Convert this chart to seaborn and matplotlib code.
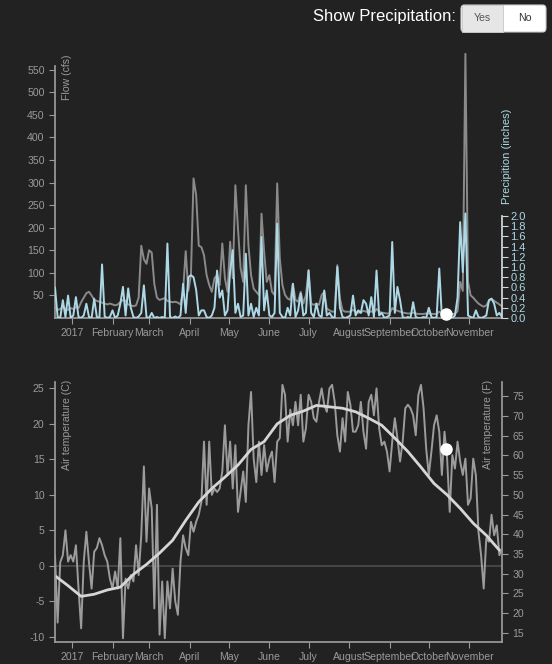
#Recreating the flow / precipitation / air temperature dashboard (2017) with seaborn.

#Importing libraries.
import pandas as pd
import matplotlib
matplotlib.use('Agg')
import matplotlib.pyplot as plt
import matplotlib.dates as mdates
from matplotlib.ticker import FuncFormatter
from matplotlib.patches import FancyBboxPatch, Rectangle
import seaborn as sns

#Daily series sampled every 2 days, starting 2016-12-19.
start_date = '2016-12-19'

flow_cfs = [
    22, 18, 20, 25, 20, 18, 22, 20, 24, 22,
    35, 45, 55, 58, 50, 40, 38, 36, 34, 32,
    30, 32, 30, 28, 30, 35, 40, 38, 30, 28,
    26, 28, 45, 160, 130, 120, 150, 145, 75, 45,
    40, 42, 44, 38, 36, 35, 36, 34, 30, 60,
    148, 60, 95, 309, 272, 160, 157, 139, 95, 73,
    58, 88, 95, 73, 165, 88, 58, 169, 88, 294,
    198, 110, 80, 294, 161, 95, 65, 58, 51, 231,
    147, 80, 95, 58, 51, 298, 132, 73, 51, 43,
    40, 76, 40, 36, 58, 32, 51, 106, 32, 29,
    32, 29, 51, 58, 21, 17, 14, 14, 117, 43,
    17, 14, 14, 14, 18, 14, 12, 12, 16, 14,
    12, 15, 12, 20, 14, 12, 11, 10, 10, 22,
    18, 16, 14, 12, 11, 10, 10, 12, 10, 9,
    9, 9, 10, 10, 9, 9, 9, 14, 10, 8,
    8, 8, 9, 9, 15, 80, 60, 585, 80, 50,
    45, 38, 32, 28, 25, 28, 38, 42, 38, 34,
    30, 26,
]

precip_in = [
    0.60, 0.02, 0.00, 0.35, 0.02, 0.44, 0.00, 0.05, 0.41, 0.02,
    0.00, 0.05, 0.28, 0.02, 0.00, 0.38, 0.02, 0.00, 1.05, 0.03,
    0.00, 0.02, 0.15, 0.00, 0.05, 0.28, 0.61, 0.05, 0.58, 0.20,
    0.02, 0.00, 0.03, 0.10, 0.64, 0.02, 0.00, 0.10, 0.00, 0.02,
    0.00, 0.02, 0.00, 1.46, 0.02, 0.00, 0.03, 0.00, 0.05, 0.67,
    0.10, 0.80, 0.84, 0.80, 0.55, 0.05, 0.15, 0.15, 0.02, 0.00,
    0.05, 0.20, 0.93, 0.40, 0.54, 0.05, 0.15, 0.93, 1.33, 0.10,
    0.28, 0.02, 0.05, 1.26, 0.05, 0.28, 0.02, 0.20, 0.05, 1.59,
    0.15, 0.54, 0.05, 0.02, 0.10, 1.85, 0.10, 0.02, 0.00, 0.20,
    0.05, 0.67, 0.02, 0.15, 0.48, 0.05, 0.10, 0.93, 0.10, 0.02,
    0.28, 0.05, 0.02, 0.54, 0.05, 0.10, 0.02, 0.00, 1.00, 0.20,
    0.02, 0.00, 0.02, 0.05, 0.44, 0.05, 0.15, 0.10, 0.35, 0.28,
    0.05, 0.41, 0.02, 0.93, 0.05, 0.10, 0.00, 0.02, 0.05, 1.49,
    0.10, 0.61, 0.35, 0.02, 0.00, 0.02, 0.00, 0.31, 0.02, 0.00,
    0.00, 0.02, 0.00, 0.20, 0.02, 0.00, 0.02, 0.97, 0.02, 0.00,
    0.00, 0.02, 0.00, 0.05, 0.40, 1.88, 0.90, 2.05, 0.05, 0.02,
    0.00, 0.15, 0.02, 0.00, 0.02, 0.05, 0.35, 0.38, 0.28, 0.05,
    0.10, 0.02,
]

temp_c = [
    1.5, -8.0, 0.5, 1.5, 5.0, 0.6, 1.5, 0.6, 2.9, -3.2,
    -8.8, 0.6, 4.8, 0.5, -3.2, 2.0, 2.5, 3.9, 2.9, 1.5,
    0.6, -1.8, -3.2, -0.8, -3.2, 3.9, -10.2, -1.8, -3.2, -1.3,
    -2.2, 2.9, -1.3, 4.3, 14.0, 3.4, 10.9, 8.1, -6.0, 8.6,
    -9.7, -2.2, -10.2, -2.2, -6.0, -0.4, -5.0, -6.9, 0.6, 4.3,
    2.5, 1.5, 6.2, 4.8, 6.2, 7.2, 9.0, 17.5, 8.6, 17.5,
    10.0, 10.9, 10.4, 10.9, 13.3, 19.8, 12.8, 17.5, 10.9, 17.0,
    7.6, 10.4, 13.3, 9.0, 19.8, 24.5, 15.1, 11.8, 17.5, 12.8,
    17.0, 13.3, 15.1, 16.1, 11.8, 17.5, 18.0, 25.5, 24.1, 17.5,
    22.0, 19.8, 23.1, 19.8, 24.1, 17.5, 19.4, 24.1, 23.1, 20.8,
    20.3, 23.1, 25.0, 22.7, 21.7, 25.0, 25.5, 23.1, 18.4, 16.1,
    20.8, 17.5, 24.5, 22.7, 18.9, 18.9, 19.8, 23.1, 18.9, 16.5,
    23.1, 24.1, 21.2, 25.0, 19.4, 17.0, 17.5, 16.1, 13.3, 17.5,
    20.8, 18.0, 14.7, 17.5, 22.2, 22.7, 22.2, 21.2, 18.4, 24.1,
    25.5, 22.2, 16.5, 12.8, 16.1, 19.8, 21.2, 18.9, 12.8, 18.9,
    15.1, 7.6, 15.6, 13.7, 17.5, 14.7, 12.8, 15.1, 8.6, 9.5,
    15.1, 12.8, 4.8, 1.5, -3.2, 3.9, 3.4, 7.2, 4.3, 5.7,
    1.5, 2.5,
]

#Smoothed air temperature, every 10 days.
temp_smooth_c = [
    -1.4, -2.8, -4.3, -4.0, -3.4, -3.0, -1.2, 0.2, 1.8, 3.6,
    6.4, 9.0, 10.9, 12.5, 14.2, 16.4, 17.5, 20.0, 21.2, 21.8,
    22.6, 22.4, 22.2, 21.7, 20.8, 19.8, 18.0, 16.1, 13.9, 11.6,
    10.0, 8.1, 6.0, 4.3, 2.2,
]

#Hovered day (white markers).
hover_date = '2017-10-14'
hover_flow = 8
hover_temp = 16.4

flow_ticks = list(range(50, 551, 50))
precip_ticks = [i / 10 for i in range(0, 21, 2)]
temp_c_ticks = list(range(-10, 26, 5))
temp_f_ticks = list(range(15, 76, 5))

dates = pd.date_range(start_date, periods=len(flow_cfs), freq='2D')
smooth_dates = pd.date_range(start_date, periods=len(temp_smooth_c), freq='10D')

bg = '#222222'
axis_col = '#9a9a9a'
blue = '#add8e6'

sns.set_theme(style='dark', rc={'axes.facecolor': bg, 'figure.facecolor': bg,
                                'savefig.facecolor': bg})
plt.rcParams['font.family'] = ['Liberation Sans', 'DejaVu Sans']
plt.rcParams['axes.unicode_minus'] = False

W, H = 552, 664
fig = plt.figure(figsize=(W / 100, H / 100), dpi=100)

def fx(px):
    return px / W

def fy(py):
    return 1 - py / H

x0, x1 = 55, 502
ax1 = fig.add_axes([fx(x0), fy(318), (x1 - x0) / W, 252 / H])
ax2 = fig.add_axes([fx(x0), fy(642), (x1 - x0) / W, 260 / H])

xmin, xmax = pd.Timestamp('2016-12-19'), pd.Timestamp('2017-11-26')

def month_fmt(x, pos):
    d = mdates.num2date(x)
    return '2017' if d.month == 1 else d.strftime('%B')

def style_axis(ax):
    for side in ['top', 'right', 'left', 'bottom']:
        ax.spines[side].set_visible(False)
    ax.spines['left'].set_visible(True)
    ax.spines['bottom'].set_visible(True)
    ax.spines['left'].set_color(axis_col)
    ax.spines['bottom'].set_color(axis_col)
    ax.set_xlim(xmin, xmax)
    ax.xaxis.set_major_locator(mdates.MonthLocator())
    ax.xaxis.set_major_formatter(FuncFormatter(month_fmt))
    ax.tick_params(axis='both', which='both', bottom=True, left=True, direction='out',
                   length=4.5, width=0.8, color=axis_col, labelcolor=axis_col,
                   labelsize=7.6, pad=3)
    ax.set_xlabel('')
    ax.set_ylabel('')

#Top panel: flow and precipitation.
sns.lineplot(x=dates, y=flow_cfs, ax=ax1, color='#8a8a8a', linewidth=1.4)
for line in ax1.lines:
    line.set_clip_on(False)
style_axis(ax1)
ax1.set_ylim(0, 558)
ax1.set_yticks(flow_ticks)

axp = ax1.twinx()
sns.lineplot(x=dates, y=precip_in, ax=axp, color=blue, linewidth=1.4)
axp.set_ylim(0, 252 / 51)
axp.set_xlim(xmin, xmax)
for side in ['top', 'left', 'bottom']:
    axp.spines[side].set_visible(False)
axp.spines['right'].set_color('#cfd8dc')
axp.spines['right'].set_bounds(0, 2.0)
axp.set_yticks(precip_ticks)
axp.set_yticklabels([f'{t:.1f}' for t in precip_ticks])
axp.tick_params(axis='y', right=True, direction='out', length=4, width=0.8,
                color='#cfd8dc', labelcolor=blue, labelsize=8, pad=2)
axp.set_ylabel('')
axp.plot(mdates.date2num(pd.Timestamp(hover_date)), hover_flow, 'o', color='white',
         markersize=8, transform=ax1.transData, clip_on=False, zorder=6)

#Bottom panel: air temperature.
ax2.axhline(0, color='#4d4d4d', linewidth=1.2, zorder=1)
sns.lineplot(x=dates, y=temp_c, ax=ax2, color='#9c9c9c', linewidth=1.4)
sns.lineplot(x=smooth_dates, y=temp_smooth_c, ax=ax2, color='#d6d6d6', linewidth=2)
ax2.plot(pd.Timestamp(hover_date), hover_temp, 'o', color='white', markersize=8, zorder=6)
style_axis(ax2)
ax2.set_ylim(-10.73, 25.9)
ax2.set_yticks(temp_c_ticks)

axf = ax2.twinx()
axf.set_ylim(-10.73 * 1.8 + 32, 25.9 * 1.8 + 32)
for side in ['top', 'left', 'bottom']:
    axf.spines[side].set_visible(False)
axf.spines['right'].set_color(axis_col)
axf.set_yticks(temp_f_ticks)
axf.tick_params(axis='y', right=True, direction='out', length=4.5, width=0.8,
                color=axis_col, labelcolor=axis_col, labelsize=7.6, pad=3)

#Axis titles.
fig.text(fx(67), fy(55), 'Flow (cfs)', rotation=90, ha='center', va='top',
         color=axis_col, fontsize=7.6)
fig.text(fx(507), fy(204), 'Precipition (inches)', rotation=90, ha='center', va='bottom',
         color=blue, fontsize=8)
fig.text(fx(67), fy(380), 'Air temperature (C)', rotation=90, ha='center', va='top',
         color=axis_col, fontsize=7.6)
fig.text(fx(488), fy(380), 'Air temperature (F)', rotation=90, ha='center', va='top',
         color=axis_col, fontsize=7.6)

#Show Precipitation toggle.
fig.text(fx(456), fy(17), 'Show Precipitation:', ha='right', va='center',
         color='white', fontsize=12)
fig.add_artist(FancyBboxPatch((fx(461), fy(32)), fx(85), 27 / H,
                              boxstyle='round,pad=0,rounding_size=0.006',
                              transform=fig.transFigure, facecolor='white',
                              edgecolor='#cccccc', linewidth=0.8))
fig.add_artist(Rectangle((fx(461.5), fy(31.5)), fx(41.5), 26 / H,
                         transform=fig.transFigure, facecolor='#e6e6e6',
                         edgecolor='#c8c8c8', linewidth=0.6))
fig.text(fx(482), fy(18), 'Yes', ha='center', va='center', color='#555555', fontsize=7.6)
fig.text(fx(524.5), fy(18), 'No', ha='center', va='center', color='#333333', fontsize=7.6)

plt.savefig('out.png', dpi=100)
